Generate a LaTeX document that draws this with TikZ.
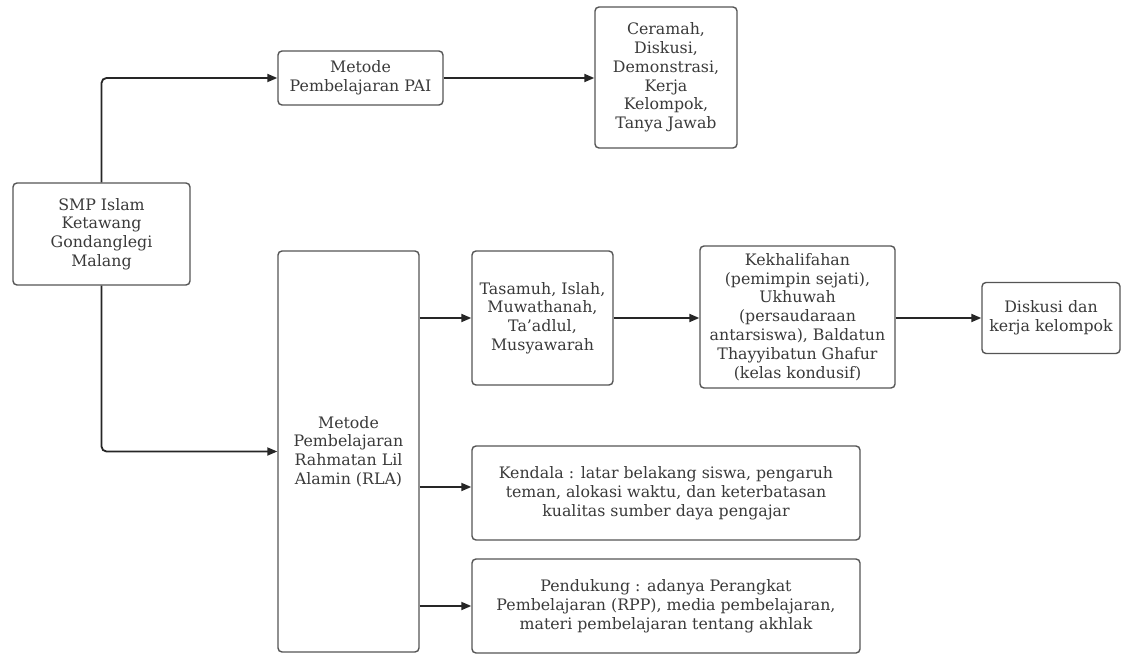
\documentclass[tikz,border=0pt]{standalone}
\usepackage{fontspec}
\setmainfont{DejaVu Serif}
\usetikzlibrary{arrows.meta}
\definecolor{boxline}{HTML}{555555}
\definecolor{txt}{HTML}{3A3A3A}
\tikzset{
  box/.style={draw=boxline, line width=1.4pt, rounded corners=4pt, rectangle,
    align=center, text=txt, inner sep=1pt,
    font=\fontsize{15.8}{18.8}\selectfont},
  conn/.style={line width=1.8pt, draw=black!85, rounded corners=5pt,
    -{Triangle[length=10pt,width=8pt]}}
}
\begin{document}
\begin{tikzpicture}[x=1pt,y=-1pt]
\useasboundingbox[fill=white] (0,0) rectangle (1122,655);
\node[box, minimum width=177pt, minimum height=102pt] (smp) at (101.5,234) {SMP Islam\\Ketawang\\Gondanglegi\\Malang};
\node[box, minimum width=165pt, minimum height=54pt] (pai) at (360.5,78) {Metode\\Pembelajaran PAI};
\node[box, minimum width=142pt, minimum height=141pt] (cer) at (666,77.5) {Ceramah,\\Diskusi,\\Demonstrasi,\\Kerja\\Kelompok,\\Tanya Jawab};
\node[box, minimum width=141pt, minimum height=401pt] (rla) at (348.5,451.5) {Metode\\Pembelajaran\\Rahmatan Lil\\Alamin (RLA)};
\node[box, minimum width=141pt, minimum height=134pt] (tas) at (542.5,318) {Tasamuh, Islah,\\Muwathanah,\\Ta'adlul,\\Musyawarah};
\node[box, minimum width=195pt, minimum height=142pt] (kek) at (797.5,317) {Kekhalifahan\\(pemimpin sejati),\\Ukhuwah\\(persaudaraan\\antarsiswa), Baldatun\\Thayyibatun Ghafur\\(kelas kondusif)};
\node[box, minimum width=138pt, minimum height=71pt] (dis) at (1051,318) {Diskusi dan\\kerja kelompok};
\node[box, minimum width=388pt, minimum height=94pt] (ken) at (666,493) {Kendala : latar belakang siswa, pengaruh\\teman, alokasi waktu, dan keterbatasan\\kualitas sumber daya pengajar};
\node[box, minimum width=388pt, minimum height=94pt] (pen) at (666,606) {Pendukung : adanya Perangkat\\Pembelajaran (RPP), media pembelajaran,\\materi pembelajaran tentang akhlak};
\draw[conn] (smp.north) |- (pai.west);
\draw[conn] (smp.south) |- (rla.west);
\draw[conn] (pai.east) -- (cer.west |- pai.east);
\draw[conn] (rla.east |- tas.west) -- (tas.west);
\draw[conn] (tas.east) -- (kek.west |- tas.east);
\draw[conn] (kek.east |- dis.west) -- (dis.west);
\draw[conn] ([yshift=6pt]rla.east |- ken.west) -- ([yshift=6pt]ken.west);
\draw[conn] (rla.east |- pen.west) -- (pen.west);
\end{tikzpicture}
\end{document}
